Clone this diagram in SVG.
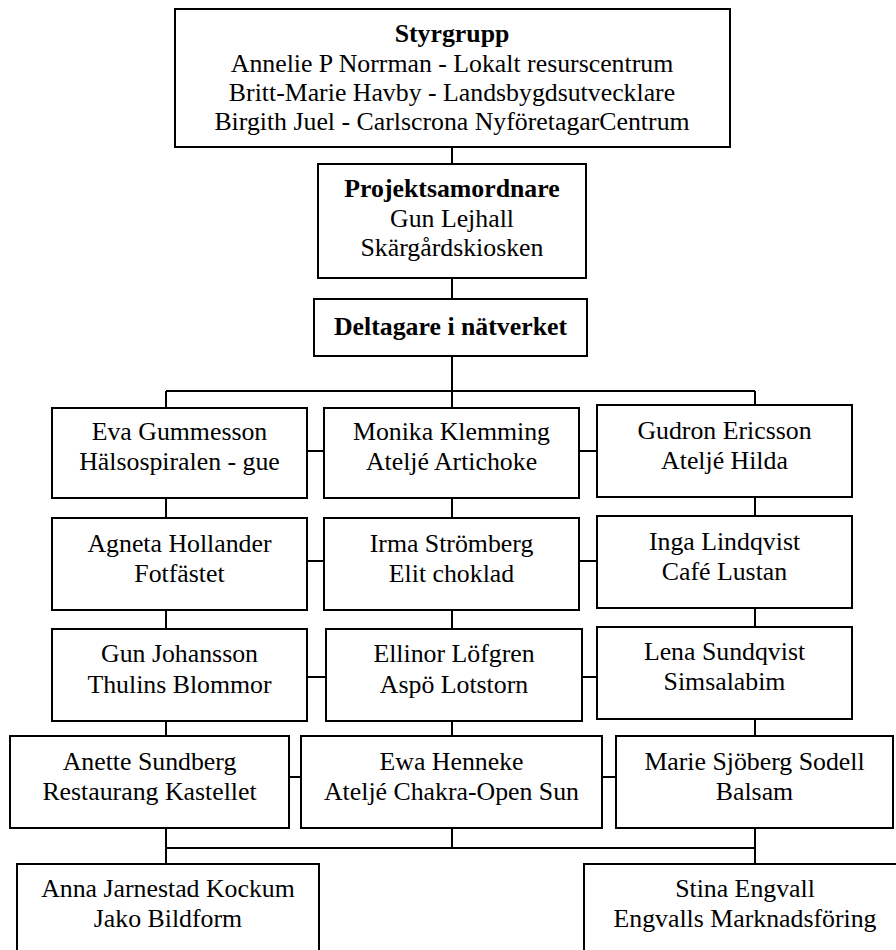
<svg xmlns="http://www.w3.org/2000/svg" width="896" height="950" viewBox="0 0 896 950">
<style>
.box{fill:#fff;stroke:#000;stroke-width:2}
.ln{fill:none;stroke:#000;stroke-width:2}
text{font-family:"Liberation Serif","Times New Roman",serif;font-size:25.8px;fill:#000;text-anchor:middle}
.b{font-weight:bold}
</style>
<rect width="896" height="950" fill="#fff"/>
<g id="connectors" class="ln">
<path d="M452 147V163M452 279V298M452 357V407M166 391H755M166 391V407M755 391V404"/>
<path d="M308 451H323M580 451H596"/>
<path d="M166 499V517M452 499V517M755 498V515"/>
<path d="M307 561H323M579 561H596"/>
<path d="M166 611V628M452 611V628M755 609V626"/>
<path d="M307 677H325M583 677H596"/>
<path d="M166 722V735M452 722V735M755 719V735"/>
<path d="M289 777H300M603 777H615"/>
<path d="M166 829V863M452 829V848M755 829V863M166 848H755"/>
</g>
<g id="styrgrupp"><rect class="box" x="175" y="9" width="555" height="138"/>
<text x="452" y="42" class="b">Styrgrupp</text>
<text x="452" y="72">Annelie P Norrman - Lokalt resurscentrum</text>
<text x="452" y="101">Britt-Marie Havby - Landsbygdsutvecklare</text>
<text x="452" y="130">Birgith Juel - Carlscrona NyföretagarCentrum</text></g>
<g id="projektsamordnare"><rect class="box" x="318" y="164" width="268" height="114"/>
<text x="452" y="197" class="b">Projektsamordnare</text>
<text x="452" y="227">Gun Lejhall</text>
<text x="452" y="256">Skärgårdskiosken</text></g>
<g id="deltagare"><rect class="box" x="314" y="299" width="273" height="57"/>
<text x="450.5" y="335" class="b">Deltagare i nätverket</text></g>
<g id="eva"><rect class="box" x="52" y="408" width="255" height="90"/>
<text x="179.5" y="440">Eva Gummesson</text><text x="179.5" y="470">Hälsospiralen - gue</text></g>
<g id="monika"><rect class="box" x="324" y="408" width="255" height="90"/>
<text x="451.5" y="440">Monika Klemming</text><text x="451.5" y="470">Ateljé Artichoke</text></g>
<g id="gudron"><rect class="box" x="597" y="405" width="255" height="92"/>
<text x="724.5" y="439">Gudron Ericsson</text><text x="724.5" y="469">Ateljé Hilda</text></g>
<g id="agneta"><rect class="box" x="52" y="518" width="255" height="92"/>
<text x="179.5" y="552">Agneta Hollander</text><text x="179.5" y="582">Fotfästet</text></g>
<g id="irma"><rect class="box" x="324" y="518" width="255" height="92"/>
<text x="451.5" y="552">Irma Strömberg</text><text x="451.5" y="582">Elit choklad</text></g>
<g id="inga"><rect class="box" x="597" y="516" width="255" height="92"/>
<text x="724.5" y="550">Inga Lindqvist</text><text x="724.5" y="580">Café Lustan</text></g>
<g id="gun"><rect class="box" x="52" y="629" width="255" height="92"/>
<text x="179.5" y="662">Gun Johansson</text><text x="179.5" y="693">Thulins Blommor</text></g>
<g id="ellinor"><rect class="box" x="326" y="629" width="256" height="92"/>
<text x="454" y="662">Ellinor Löfgren</text><text x="454" y="693">Aspö Lotstorn</text></g>
<g id="lena"><rect class="box" x="597" y="627" width="255" height="92"/>
<text x="724.5" y="660">Lena Sundqvist</text><text x="724.5" y="690">Simsalabim</text></g>
<g id="anette"><rect class="box" x="10" y="736" width="279" height="92"/>
<text x="149.5" y="770">Anette Sundberg</text><text x="149.5" y="800">Restaurang Kastellet</text></g>
<g id="ewa"><rect class="box" x="301" y="736" width="301" height="92"/>
<text x="451.5" y="770">Ewa Henneke</text><text x="451.5" y="800">Ateljé Chakra-Open Sun</text></g>
<g id="marie"><rect class="box" x="616" y="736" width="277" height="92"/>
<text x="754.5" y="770">Marie Sjöberg Sodell</text><text x="754.5" y="800">Balsam</text></g>
<g id="anna"><rect class="box" x="17" y="864" width="302" height="95"/>
<text x="168" y="897">Anna Jarnestad Kockum</text><text x="168" y="927">Jako Bildform</text></g>
<g id="stina"><rect class="box" x="584" y="864" width="322" height="95"/>
<text x="745" y="897">Stina Engvall</text><text x="745" y="927">Engvalls Marknadsföring</text></g>
</svg>
